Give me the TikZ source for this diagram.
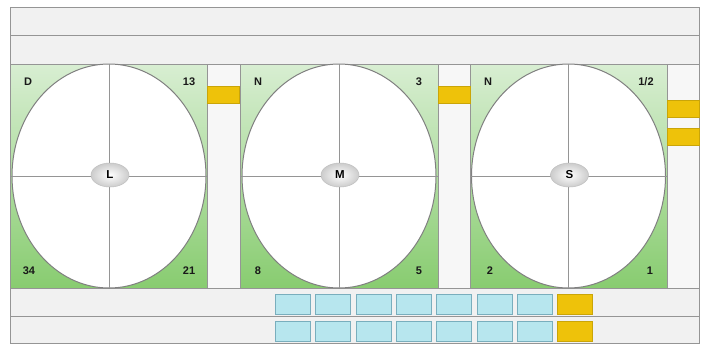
\documentclass[tikz,border=0pt]{standalone}
\usepackage{fontspec}
\setmainfont{Liberation Sans}
\usetikzlibrary{shapes.geometric}
\definecolor{frame}{HTML}{959595}
\definecolor{stripfill}{HTML}{F1F1F1}
\definecolor{greentop}{HTML}{D8EED2}
\definecolor{greenbot}{HTML}{88CC70}
\definecolor{ybox}{HTML}{EEC20A}
\definecolor{cbox}{HTML}{B7E6EE}
\definecolor{cedge}{HTML}{79AEBD}
\tikzset{
  strip/.style={draw=frame, fill=stripfill, line width=0.8pt},
  spacer/.style={draw=frame, fill=stripfill!60!white, line width=0.8pt},
  panel/.style={draw=frame, line width=0.8pt, top color=greentop, bottom color=greenbot},
  oval/.style={draw=black!50, line width=1pt, fill=white},
  cross/.style={draw=frame, line width=0.8pt},
  hub/.style={ellipse, draw=black!25, line width=0.5pt, inner color=white, outer color=black!20,
    minimum width=38pt, minimum height=24pt, inner sep=0pt, font=\bfseries\fontsize{11.5}{11.5}\selectfont},
  num/.style={font=\bfseries\fontsize{11}{11}\selectfont, text=black!90, inner sep=0pt},
  ytag/.style={draw=ybox!85!black, fill=ybox, line width=0.4pt, minimum width=32pt, minimum height=17pt, inner sep=0pt},
  ctag/.style={draw=cedge, fill=cbox, line width=0.8pt, minimum width=35pt, minimum height=20pt, inner sep=0pt},
  ftag/.style={draw=ybox!85!black, fill=ybox, line width=0.4pt, minimum width=35pt, minimum height=20pt, inner sep=0pt},
}
\begin{document}
\begin{tikzpicture}[x=1pt,y=-1pt]
\useasboundingbox[fill=white] (0,0) rectangle (701,346);
% top strips
\path[strip] (10,7) rectangle (699,35);
\path[strip] (10,35) rectangle (699,64);
% bottom strips
\path[strip] (10,288) rectangle (699,316);
\path[strip] (10,316) rectangle (699,343);
% spacers
\path[spacer] (207,64) rectangle (240,288);
\path[spacer] (438,64) rectangle (470,288);
\path[spacer] (667,64) rectangle (699,288);
% panels
\foreach \l/\r in {10/207, 240/438, 470/667}{
  \path[panel] (\l,64) rectangle (\r,288);
}
% ellipses
\path[oval] (109,176) ellipse [x radius=97, y radius=112];
\path[oval] (339,176) ellipse [x radius=97, y radius=112];
\path[oval] (568.5,176) ellipse [x radius=97, y radius=112];
% crosses
\foreach \l/\r/\m in {10/207/109, 240/438/339, 470/667/568.5}{
  \draw[cross] (\m,64) -- (\m,288);
  \draw[cross] (\l,176) -- (\r,176);
}
% hubs
\node[hub] (hL) at (110,175) {L};
\node[hub] (hM) at (340,175) {M};
\node[hub] (hS) at (569.5,175) {S};
% corner numbers
\node[num] (p1tl) at (28,82) {D};
\node[num] (p1tr) at (189,82) {13};
\node[num] (p1bl) at (29,271) {34};
\node[num] (p1br) at (189,271) {21};
\node[num] (p2tl) at (258,82) {N};
\node[num] (p2tr) at (419,82) {3};
\node[num] (p2bl) at (258,271) {8};
\node[num] (p2br) at (419,271) {5};
\node[num] (p3tl) at (488,82) {N};
\node[num] (p3tr) at (646,82) {1/2};
\node[num] (p3bl) at (490,271) {2};
\node[num] (p3br) at (650,271) {1};
% yellow tags in spacers
\node[ytag] (y1) at (223.5,95) {};
\node[ytag] (y2) at (454,95) {};
\node[ytag] (y3) at (683,109) {};
\node[ytag] (y4) at (683,137) {};
% bottom tag rows
\foreach \i in {0,...,6}{
  \node[ctag] (ca\i) at (293+40.3*\i,304) {};
  \node[ctag] (cb\i) at (293+40.3*\i,331) {};
}
\node[ftag] (fa) at (575,304) {};
\node[ftag] (fb) at (575,331) {};
\end{tikzpicture}
\end{document}
